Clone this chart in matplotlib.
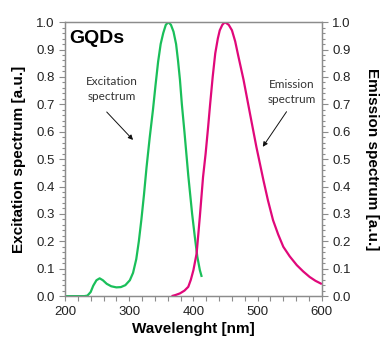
import matplotlib.pyplot as plt
from matplotlib.ticker import MultipleLocator

# excitation spectrum (left axis)
ex_wl = [200, 230, 235, 240, 244, 249, 254, 259, 265, 272, 280, 287, 294, 301, 306, 311,
         315, 319, 323, 327, 332, 337, 341, 345, 349, 353, 357, 361, 365, 369, 373, 376,
         379, 382, 386, 389, 392, 395, 398, 402, 406, 410, 413]
ex_val = [0.0, 0.0, 0.002, 0.015, 0.038, 0.058, 0.065, 0.058, 0.045, 0.036, 0.032, 0.033,
          0.04, 0.058, 0.085, 0.135, 0.2, 0.28, 0.37, 0.47, 0.58, 0.68, 0.77, 0.855, 0.92,
          0.96, 0.99, 1.0, 0.99, 0.965, 0.92, 0.86, 0.79, 0.70, 0.60, 0.52, 0.44, 0.37,
          0.30, 0.22, 0.145, 0.095, 0.07]

# emission spectrum (right axis)
em_wl = [366, 372, 379, 386, 392, 396, 400, 405, 410, 415, 419, 423, 426, 430, 434, 438,
         441, 445, 449, 452, 455, 460, 465, 470, 478, 488, 498, 509, 516, 524, 532, 540,
         550, 561, 571, 581, 590, 600]
em_val = [0.0, 0.004, 0.01, 0.02, 0.034, 0.06, 0.095, 0.156, 0.29, 0.435, 0.52, 0.62,
          0.70, 0.80, 0.886, 0.94, 0.97, 0.99, 1.0, 0.995, 0.99, 0.97, 0.93, 0.875, 0.79,
          0.667, 0.545, 0.423, 0.35, 0.277, 0.225, 0.18, 0.145, 0.113, 0.09, 0.07, 0.056,
          0.044]

GREEN = "#1ABF5A"
PINK = "#E0087A"
GRAY = "#8c8c8c"

plt.rcParams['font.family'] = ['Liberation Sans', 'DejaVu Sans']

fig = plt.figure(figsize=(3.8, 3.4), dpi=100)
ax = fig.add_axes([0.171, 0.129, 0.676, 0.806])
ax2 = ax.twinx()

ax.plot(ex_wl, ex_val, color=GREEN, lw=1.6, solid_capstyle='butt')
ax2.plot(em_wl, em_val, color=PINK, lw=1.6, solid_capstyle='butt')

ax.set_xlim(200, 600)
ax.set_ylim(0, 1.0)
ax2.set_ylim(0, 1.0)

for a in (ax, ax2):
    for s in a.spines.values():
        s.set_color(GRAY)
        s.set_linewidth(0.9)
    a.yaxis.set_major_locator(MultipleLocator(0.1))
    a.yaxis.set_minor_locator(MultipleLocator(0.02))
    a.tick_params(which='both', colors=GRAY, labelcolor='#222222', labelsize=9.5, width=0.8)
    a.tick_params(which='major', length=4)
    a.tick_params(which='minor', length=2.5)
    a.set_yticklabels([f"{v:.1f}" for v in a.get_yticks()])

ax.xaxis.set_major_locator(MultipleLocator(100))
ax.xaxis.set_minor_locator(MultipleLocator(20))
ax.tick_params(axis='x', which='both', length=3.5)

ax.set_xlabel("Wavelenght [nm]", fontsize=11, fontweight='bold', labelpad=3)
ax.set_ylabel("Excitation spectrum [a.u.]", fontsize=11, fontweight='bold', labelpad=7)
ax2.set_ylabel("Emission spectrum [a.u.]", fontsize=11, fontweight='bold',
               rotation=-90, labelpad=20)

ax.text(207, 0.94, "GQDs", fontsize=14, fontweight='bold', va='center', ha='left')

note = dict(fontsize=8.5, family=['Lato', 'DejaVu Sans'], color='#333333', ha='center',
            va='center', linespacing=1.45)
arrow = dict(arrowstyle='-|>', color='#111111', lw=0.7, mutation_scale=7,
             shrinkA=0, shrinkB=0)

ax.text(273, 0.755, "Excitation\nspectrum", **note)
ax.annotate("", xy=(306, 0.57), xytext=(265, 0.672), arrowprops=arrow)

ax.text(553, 0.745, "Emission\nspectrum", **note)
ax.annotate("", xy=(508, 0.545), xytext=(545, 0.673), arrowprops=arrow)

fig.savefig("out.png", dpi=100)
